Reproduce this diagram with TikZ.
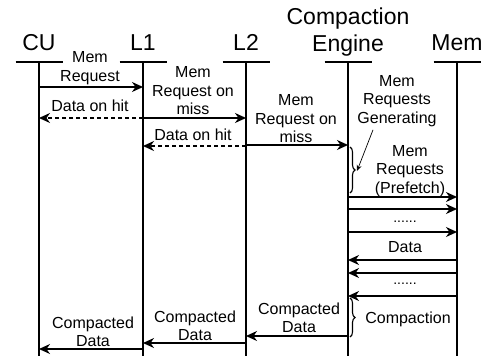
\documentclass[tikz,border=0pt]{standalone}
\usepackage{fontspec}
\setmainfont{Liberation Sans}
\usetikzlibrary{arrows.meta,decorations.pathreplacing}

\tikzset{
  life/.style={line width=1.4pt},
  msg/.style={line width=1.4pt, -{Stealth[length=11pt,width=10pt,inset=3.5pt]}},
  reply/.style={msg, dash pattern=on 4pt off 3pt},
  lbl/.style={font=\fontsize{16}{18.5}\selectfont, align=center, inner sep=0pt},
  head/.style={font=\fontsize{23}{27}\selectfont, anchor=base, inner sep=0pt},
  curly/.style={line width=1.1pt, decorate, decoration={brace, amplitude=5pt}},
}

\begin{document}
\begin{tikzpicture}[x=1pt,y=-1pt]
  \useasboundingbox (0,0) rectangle (492,356);

  \foreach \name/\x in {cu/39, lone/143, ltwo/246, ce/348, mem/457} {
    \coordinate (\name) at (\x,62);
    \coordinate (\name end) at (\x,356);
    \draw[life] (\name) -- (\name end);
    \draw[life] ([xshift=-23.5pt]\name) -- ([xshift=23.5pt]\name);
  }

  \node[head] (cuname) at (39,50) {CU};
  \node[head] (lonename) at (143,50) {L1};
  \node[head] (ltwoname) at (246,50) {L2};
  \node[head] (cename) at (348,51) {Engine};
  \node[head] (cenametop) at (348,24) {Compaction};
  \node[head] (memname) at (457,50) {Mem};

  \foreach \i/\y in {1/87, 2/118, 3/146, 4/145, 5/336, 6/343, 7/349} {
    \coordinate (m\i) at (0,\y);
  }
  \foreach \i/\y in {1/197, 2/209, 3/232} {
    \coordinate (p\i) at (0,\y);
  }
  \foreach \i/\y in {1/260, 2/273, 3/296} {
    \coordinate (d\i) at (0,\y);
  }

  \draw[msg] (cu |- m1) -- (lone |- m1);
  \draw[reply] (lone |- m2) -- (cu |- m2);
  \draw[msg] (lone |- m2) -- (ltwo |- m2);
  \draw[reply] (ltwo |- m3) -- (lone |- m3);
  \draw[msg] (ltwo |- m4) -- (ce |- m4);
  \foreach \i in {1,2,3} {
    \draw[msg] (ce |- p\i) -- (mem |- p\i);
    \draw[msg] (mem |- d\i) -- (ce |- d\i);
  }
  \draw[msg] (ce |- m5) -- (ltwo |- m5);
  \draw[msg] (ltwo |- m6) -- (lone |- m6);
  \draw[msg] (lone |- m7) -- (cu |- m7);

  \coordinate (gentop) at (350,147);
  \coordinate (genbot) at (350,193);
  \coordinate (gentip) at (357,171);
  \coordinate (cmptop) at (350,298);
  \coordinate (cmpbot) at (350,337);
  \draw[curly] (gentop) -- (genbot);
  \draw[curly] (cmptop) -- (cmpbot);

  \node[lbl] (req) at (90,68) {Mem\\Request};
  \node[lbl] (hitone) at (90,106) {Data on hit};
  \node[lbl] (missone) at (193,91) {Mem\\Request on\\miss};
  \node[lbl] (hittwo) at (193,135) {Data on hit};
  \node[lbl] (misstwo) at (296,119) {Mem\\Request on\\miss};
  \node[lbl] (gen) at (397,101) {Mem\\Requests\\Generating};
  \node[lbl] (pref) at (410,171) {Mem\\Requests\\(Prefetch)};
  \node[lbl, font=\fontsize{14}{16}\selectfont] (dotsreq) at (405,222) {......};
  \node[lbl] (data) at (405,247) {Data};
  \node[lbl, font=\fontsize{14}{16}\selectfont] (dotsdata) at (405,284) {......};
  \node[lbl] (cmp) at (408,319) {Compaction};
  \node[lbl] (cdthree) at (299,318) {Compacted\\Data};
  \node[lbl] (cdtwo) at (195,326) {Compacted\\Data};
  \node[lbl] (cdone) at (93,332) {Compacted\\Data};

  \draw[line width=0.7pt, -{Stealth[length=6pt,width=5pt]}] ([xshift=-24pt,yshift=-3pt]gen.south) -- (gentip);
\end{tikzpicture}
\end{document}
